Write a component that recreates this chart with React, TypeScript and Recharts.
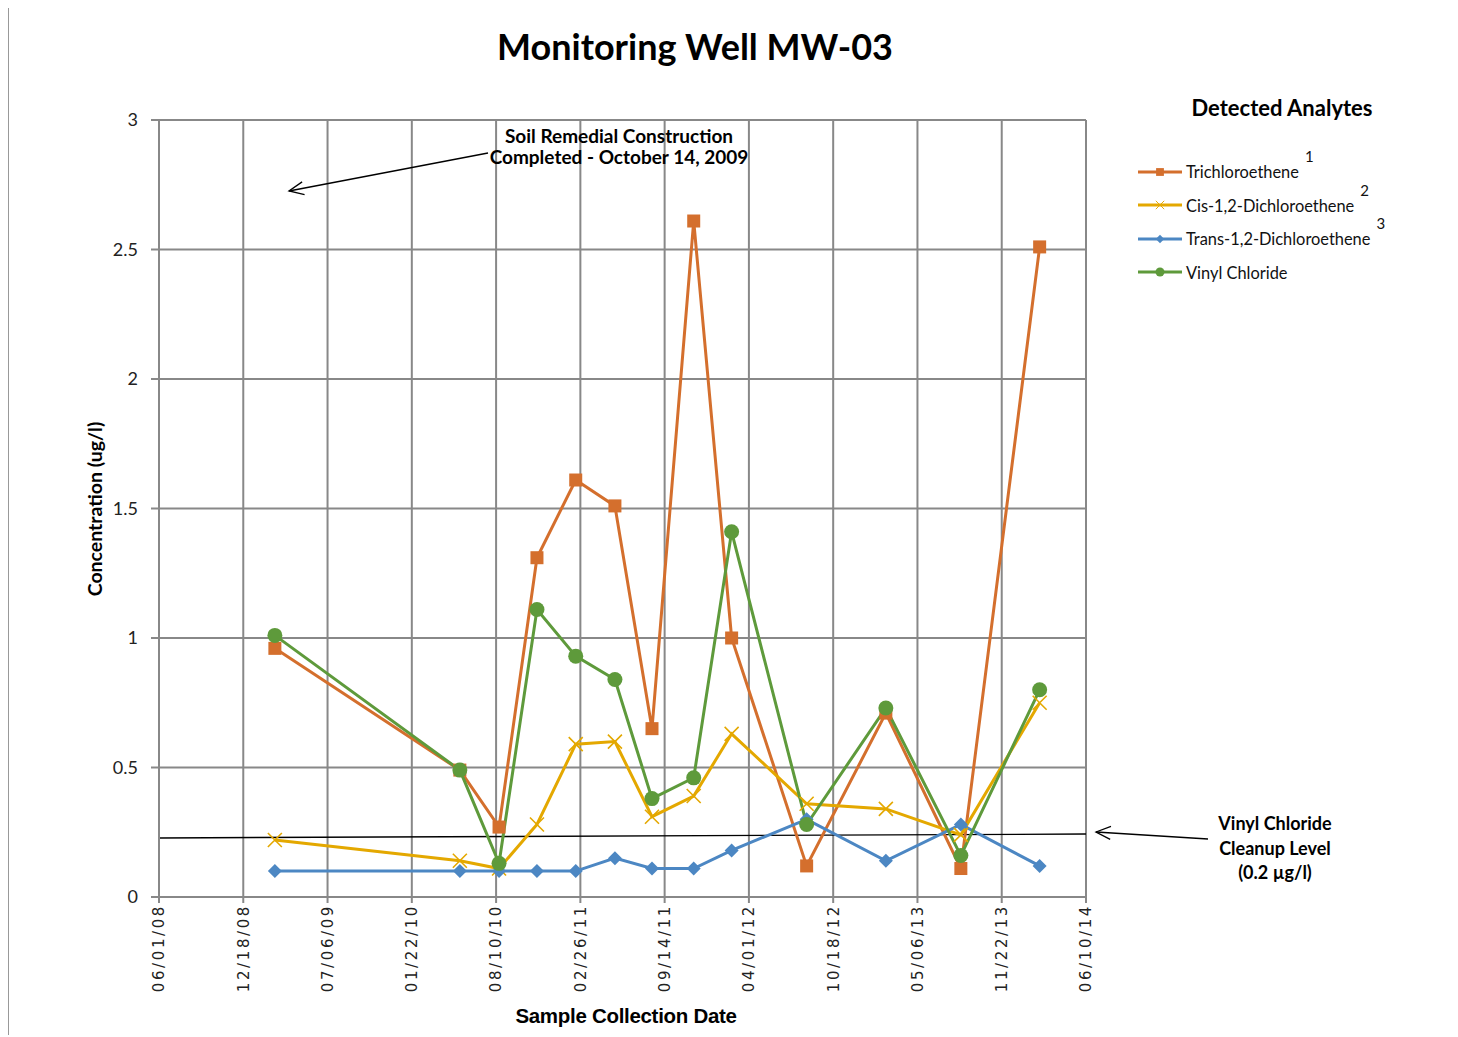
import { LineChart, Line, XAxis, YAxis, CartesianGrid, ReferenceLine } from 'recharts';

const sampleDates = [
  '2009-03-03', '2010-05-16', '2010-08-17', '2010-11-15', '2011-02-15', '2011-05-19', '2011-08-15',
  '2011-11-22', '2012-02-20', '2012-08-16', '2013-02-20', '2013-08-17', '2014-02-20'
];
const trichloroethene = [0.96, 0.49, 0.27, 1.31, 1.61, 1.51, 0.65, 2.61, 1.0, 0.12, 0.71, 0.11, 2.51];
const cisDce = [0.22, 0.14, 0.11, 0.28, 0.59, 0.6, 0.31, 0.39, 0.63, 0.36, 0.34, 0.24, 0.75];
const transDce = [0.1, 0.1, 0.1, 0.1, 0.1, 0.15, 0.11, 0.11, 0.18, 0.3, 0.14, 0.28, 0.12];
const vinylChloride = [1.01, 0.49, 0.13, 1.11, 0.93, 0.84, 0.38, 0.46, 1.41, 0.28, 0.73, 0.16, 0.8];

const tickDates = [
  '2008-06-01', '2008-12-18', '2009-07-06', '2010-01-22', '2010-08-10', '2011-02-26',
  '2011-09-14', '2012-04-01', '2012-10-18', '2013-05-06', '2013-11-22', '2014-06-10'
];
const yTicks = [0, 0.5, 1, 1.5, 2, 2.5, 3];
// hand-drawn cleanup line in the original is slightly tilted
const cleanupLine = [0.228, 0.243];

const ts = (d: string) => Date.parse(d + 'T00:00:00Z');
const xTicks = tickDates.map(ts);

const data = sampleDates.map((d, i) => ({
  date: ts(d),
  tce: trichloroethene[i],
  cis: cisDce[i],
  trans: transDce[i],
  vc: vinylChloride[i]
}));

const COLORS = { tce: '#D46F2D', cis: '#E4A800', trans: '#4C87C3', vc: '#5E9A3B' };
const GRID = '#888888';
const CAL = 'Lato, "Open Sans", sans-serif';

const fmtDate = (t: number) => {
  const d = new Date(t);
  const p = (n: number) => String(n).padStart(2, '0');
  return `${p(d.getUTCMonth() + 1)}/${p(d.getUTCDate())}/${p(d.getUTCFullYear() % 100)}`;
};

const Square = ({ cx, cy, fill }: any) => <rect x={cx - 6.5} y={cy - 6.5} width={13} height={13} fill={fill} />;
const Cross = ({ cx, cy, stroke }: any) => (
  <path d={`M${cx - 7},${cy - 7}L${cx + 7},${cy + 7}M${cx - 7},${cy + 7}L${cx + 7},${cy - 7}`} stroke={stroke} strokeWidth={1.6} />
);
const Diamond = ({ cx, cy, fill }: any) => <path d={`M${cx},${cy - 7}L${cx + 7},${cy}L${cx},${cy + 7}L${cx - 7},${cy}Z`} fill={fill} />;
const Dot = ({ cx, cy, fill }: any) => <circle cx={cx} cy={cy} r={7.5} fill={fill} />;

const XTick = ({ x, y, payload }: any) => (
  <text
    x={x}
    y={y - 1}
    transform={`rotate(-90 ${x} ${y - 1})`}
    textAnchor="end"
    dy="0.36em"
    fontFamily='"DejaVu Sans", sans-serif'
    fontSize={15}
    letterSpacing={2.6}
    fill="#222"
  >
    {fmtDate(payload.value)}
  </text>
);

const legendItems = [
  { name: 'Trichloroethene', sup: '1', color: COLORS.tce, Icon: Square },
  { name: 'Cis-1,2-Dichloroethene', sup: '2', color: COLORS.cis, Icon: Cross },
  { name: 'Trans-1,2-Dichloroethene', sup: '3', color: COLORS.trans, Icon: Diamond },
  { name: 'Vinyl Chloride', sup: '', color: COLORS.vc, Icon: Dot }
];

function LegendBox() {
  return (
    <div style={{ position: 'absolute', left: 1128, top: 148, fontFamily: CAL }}>
      {legendItems.map((it) => (
        <div key={it.name} style={{ display: 'flex', alignItems: 'center', height: 33.5 }}>
          <svg width={46} height={14} style={{ marginRight: 3 }}>
            <line x1={1} y1={7} x2={45} y2={7} stroke={it.color} strokeWidth={2.8} />
            <g transform="translate(23 7) scale(0.6) translate(-23 -7)">
              <it.Icon cx={23} cy={7} fill={it.color} stroke={it.color} />
            </g>
          </svg>
          <span style={{ fontSize: 16.4, color: '#111', position: 'relative', whiteSpace: 'nowrap' }}>
            {it.name}
            {it.sup && (
              <span style={{ position: 'absolute', left: '100%', top: -15, marginLeft: 6, fontSize: 15 }}>{it.sup}</span>
            )}
          </span>
        </div>
      ))}
    </div>
  );
}

function Arrow({ x1, y1, x2, y2 }: { x1: number; y1: number; x2: number; y2: number }) {
  const a = Math.atan2(y1 - y2, x1 - x2);
  const L = 16;
  const s = 0.42;
  return (
    <g stroke="#000" strokeWidth={1.3} fill="none">
      <line x1={x1} y1={y1} x2={x2} y2={y2} />
      <polyline
        points={`${x2 + L * Math.cos(a + s)},${y2 + L * Math.sin(a + s)} ${x2},${y2} ${x2 + L * Math.cos(a - s)},${y2 + L * Math.sin(a - s)}`}
      />
    </g>
  );
}

export default function App() {
  const boldText = { position: 'absolute' as const, fontFamily: CAL, fontWeight: 700, color: '#000', textAlign: 'center' as const, whiteSpace: 'nowrap' as const };
  return (
    <div style={{ position: 'relative', width: 1450, height: 1029, marginTop: -2, borderTop: '1px solid #999', borderLeft: '1px solid #999', boxSizing: 'border-box', background: '#fff' }}>
      <LineChart width={1450} height={1029} data={data} margin={{ top: 113, right: 373, bottom: 41, left: 80 }}>
        <CartesianGrid stroke={GRID} strokeWidth={2} />
        <XAxis
          dataKey="date"
          type="number"
          domain={[xTicks[0], xTicks[xTicks.length - 1]]}
          ticks={xTicks}
          tick={<XTick />}
          height={98}
          stroke={GRID}
          strokeWidth={2}
          tickSize={6}
          interval={0}
        />
        <YAxis
          type="number"
          domain={[0, 3]}
          ticks={yTicks}
          width={70}
          stroke={GRID}
          strokeWidth={2}
          tickSize={8}
          tick={{ fill: '#222', fontSize: 18, fontFamily: CAL }}
          tickMargin={13}
        />
        <ReferenceLine
          segment={[
            { x: xTicks[0], y: cleanupLine[0] },
            { x: xTicks[xTicks.length - 1], y: cleanupLine[1] }
          ]}
          stroke="#000"
          strokeWidth={1.4}
          ifOverflow="visible"
        />
        <Line dataKey="tce" name="Trichloroethene" stroke={COLORS.tce} strokeWidth={3} dot={<Square />} fill={COLORS.tce} isAnimationActive={false} />
        <Line dataKey="cis" name="Cis-1,2-Dichloroethene" stroke={COLORS.cis} strokeWidth={3} dot={<Cross />} isAnimationActive={false} />
        <Line dataKey="trans" name="Trans-1,2-Dichloroethene" stroke={COLORS.trans} strokeWidth={3} dot={<Diamond />} fill={COLORS.trans} isAnimationActive={false} />
        <Line dataKey="vc" name="Vinyl Chloride" stroke={COLORS.vc} strokeWidth={3} dot={<Dot />} fill={COLORS.vc} isAnimationActive={false} />
      </LineChart>

      <LegendBox />

      <svg width={1450} height={1029} style={{ position: 'absolute', left: 0, top: 0, pointerEvents: 'none' }}>
        <Arrow x1={479} y1={146} x2={280} y2={184} />
        <Arrow x1={1199} y1={832} x2={1087} y2={825} />
      </svg>

      <div style={{ ...boldText, left: 686, top: 17, transform: 'translateX(-50%)', fontSize: 36 }}>Monitoring Well MW-03</div>
      <div style={{ ...boldText, left: 1273, top: 87, transform: 'translateX(-50%)', fontSize: 22 }}>Detected Analytes</div>
      <div style={{ ...boldText, left: 610, top: 118, transform: 'translateX(-50%)', fontSize: 19, lineHeight: '21px' }}>
        Soil Remedial Construction
        <br />
        Completed - October 14, 2009
      </div>
      <div style={{ ...boldText, left: 1266, top: 804, transform: 'translateX(-50%)', fontSize: 18, lineHeight: '24.5px' }}>
        Vinyl Chloride
        <br />
        Cleanup Level
        <br />
        (0.2 µg/l)
      </div>
      <div style={{ ...boldText, left: 85, top: 502, transform: 'translate(-50%, -50%) rotate(-90deg)', fontSize: 19.5 }}>Concentration (ug/l)</div>
      <div style={{ ...boldText, left: 617, top: 997, transform: 'translateX(-50%)', fontSize: 20.5, fontFamily: '"Liberation Sans", Arial, sans-serif', letterSpacing: -0.3 }}>
        Sample Collection Date
      </div>
    </div>
  );
}
